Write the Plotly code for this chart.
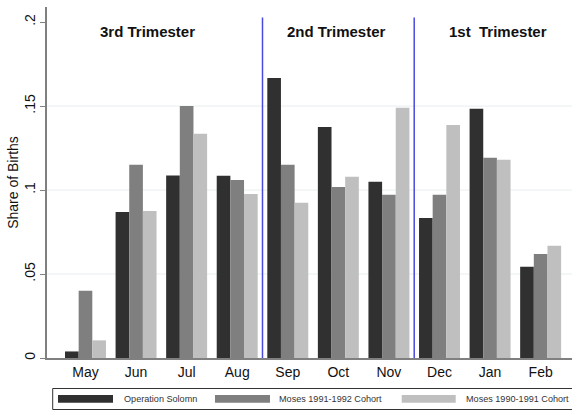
import plotly.graph_objects as go

months = ["May", "Jun", "Jul", "Aug", "Sep", "Oct", "Nov", "Dec", "Jan", "Feb"]
series_names = ["Operation Solomn", "Moses 1991-1992 Cohort", "Moses 1990-1991 Cohort"]
operation_solomn = [0.0039, 0.0869, 0.1087, 0.1085, 0.1667, 0.1375, 0.1050, 0.0833, 0.1484, 0.0543]
moses_1991_1992 = [0.0400, 0.1150, 0.1500, 0.1060, 0.1150, 0.1018, 0.0972, 0.0972, 0.1192, 0.0619]
moses_1990_1991 = [0.0105, 0.0875, 0.1335, 0.0976, 0.0924, 0.1079, 0.1490, 0.1387, 0.1180, 0.0668]
series_values = [operation_solomn, moses_1991_1992, moses_1990_1991]
colors = ["#303030", "#7f7f7f", "#bfbfbf"]

ytick_vals = [0, 0.05, 0.1, 0.15, 0.2]
ytick_text = ["0", ".05", ".1", ".15", ".2"]
trimester_labels = ["3rd Trimester", "2nd Trimester", "1st  Trimester"]
trimester_label_x = [1.236, 4.955, 8.159]
divider_x = [3.5, 6.5]

fig = go.Figure()
for name, vals, col in zip(series_names, series_values, colors):
    fig.add_trace(go.Bar(x=list(range(len(months))), y=vals, name=name,
                         marker=dict(color=col, line=dict(width=0)),
                         showlegend=False))

shapes = []
# gridlines
for v in [0.05, 0.1, 0.15]:
    shapes.append(dict(type="line", xref="paper", x0=0, x1=1, yref="y", y0=v, y1=v,
                       line=dict(color="#e8eef0", width=1), layer="below"))
# dividers
for dx in divider_x:
    shapes.append(dict(type="line", xref="x", x0=dx, x1=dx, yref="y", y0=0, y1=0.2027,
                       line=dict(color="#4a4ae0", width=1.5), layer="above"))

# legend box (paper coords)
def px2paper_x(px):
    return (px - 47) / 525

def px2paper_y(py):
    return (358 - py) / 351

shapes.append(dict(type="rect", xref="paper", yref="paper",
                   x0=px2paper_x(52.7), x1=px2paper_x(580), y0=px2paper_y(388.5), y1=px2paper_y(409.5),
                   line=dict(color="#333333", width=1), fillcolor="rgba(0,0,0,0)"))
swatch_x = [(58, 113), (215, 270), (401.7, 455.7)]
text_x = [121.7, 277, 464]
annotations = []
for (a, b), tx, col, name in zip(swatch_x, text_x, colors, series_names):
    shapes.append(dict(type="rect", xref="paper", yref="paper",
                       x0=px2paper_x(a), x1=px2paper_x(b), y0=px2paper_y(395), y1=px2paper_y(402.7),
                       line=dict(width=0), fillcolor=col))
    annotations.append(dict(xref="paper", yref="paper", x=px2paper_x(tx), y=px2paper_y(399),
                            text=name, showarrow=False, xanchor="left", yanchor="middle",
                            font=dict(family="Liberation Sans, Arial", size=9.1, color="#333333")))

for lab, lx in zip(trimester_labels, trimester_label_x):
    annotations.append(dict(xref="x", yref="y", x=lx, y=0.1947, text="<b>" + lab + "</b>",
                            showarrow=False, xanchor="center", yanchor="middle",
                            font=dict(family="Liberation Sans, Arial", size=15, color="#111111")))

fig.update_layout(
    width=572, height=410,
    margin=dict(l=47, r=0, t=7, b=52),
    paper_bgcolor="white", plot_bgcolor="white",
    barmode="group", bargap=0.19, bargroupgap=0,
    shapes=shapes, annotations=annotations,
    font=dict(family="Liberation Sans, Arial", color="#222222"),
)
fig.update_xaxes(
    range=[-0.761, 9.62], tickmode="array", tickvals=list(range(len(months))), ticktext=months,
    showgrid=False, zeroline=False, showline=True, linecolor="#808080", linewidth=2,
    ticks="", tickfont=dict(size=14, color="#111111"),
)
fig.update_yaxes(
    range=[0, 0.209], tickmode="array", tickvals=ytick_vals, ticktext=ytick_text,
    showgrid=False, zeroline=False, showline=True, linecolor="#808080", linewidth=1.5,
    ticks="outside", ticklen=5, tickcolor="#808080", tickangle=-90,
    tickfont=dict(size=14, color="#111111"),
    title=dict(text="Share of Births", font=dict(size=14, color="#111111"), standoff=0),
)

fig.write_html("out.html", config={"displayModeBar": False},
               post_script="document.body.style.margin='0';document.body.style.overflow='hidden';")
